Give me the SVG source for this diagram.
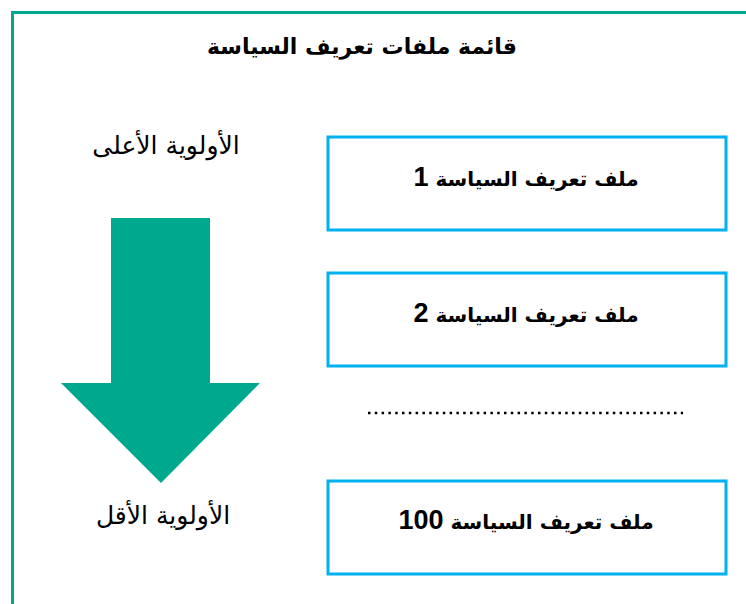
<svg xmlns="http://www.w3.org/2000/svg" width="746" height="604" viewBox="0 0 746 604">
<style>
.frame{fill:none;stroke:#00a88e;stroke-width:3}
.box{fill:#fff;stroke:#00b0f0;stroke-width:3}
.ttl{font-family:"DejaVu Sans","Liberation Sans",sans-serif;font-weight:bold;font-size:20px;fill:#000;text-anchor:middle}
.big{font-size:22px}
.num{font-family:"Liberation Sans",Arial,sans-serif;font-size:27px}
.lbl{font-family:"DejaVu Sans","Liberation Sans",sans-serif;font-size:25px;fill:#000;text-anchor:middle}
.dots{stroke:#000;stroke-width:2.5;stroke-dasharray:2.5 4.3}
</style>
<rect width="746" height="604" fill="#fff"/>
<rect class="frame" x="12.5" y="12.5" width="760" height="620"/>
<text class="ttl big" x="362" y="54" direction="rtl">قائمة ملفات تعريف السياسة</text>
<g id="high">
<text class="lbl" x="166" y="154" direction="rtl">الأولوية الأعلى</text>
</g>
<g id="arrow">
<polygon points="111,218 210,218 210,383 260,383 161,483 61,383 111,383" fill="#00a98d"/>
</g>
<g id="low">
<text class="lbl" x="163" y="524" direction="rtl">الأولوية الأقل</text>
</g>
<g id="p1">
<rect class="box" x="328" y="137" width="398" height="93"/>
<text class="ttl" x="526" y="186" direction="rtl">ملف تعريف السياسة <tspan class="num">1</tspan></text>
</g>
<g id="p2">
<rect class="box" x="328" y="273" width="398" height="93"/>
<text class="ttl" x="526" y="322" direction="rtl">ملف تعريف السياسة <tspan class="num">2</tspan></text>
</g>
<g id="connectors">
<line class="dots" x1="368" y1="413" x2="683" y2="413"/>
</g>
<g id="p100">
<rect class="box" x="328" y="481" width="398" height="93"/>
<text class="ttl" x="526" y="529" direction="rtl">ملف تعريف السياسة <tspan class="num">100</tspan></text>
</g>
</svg>
